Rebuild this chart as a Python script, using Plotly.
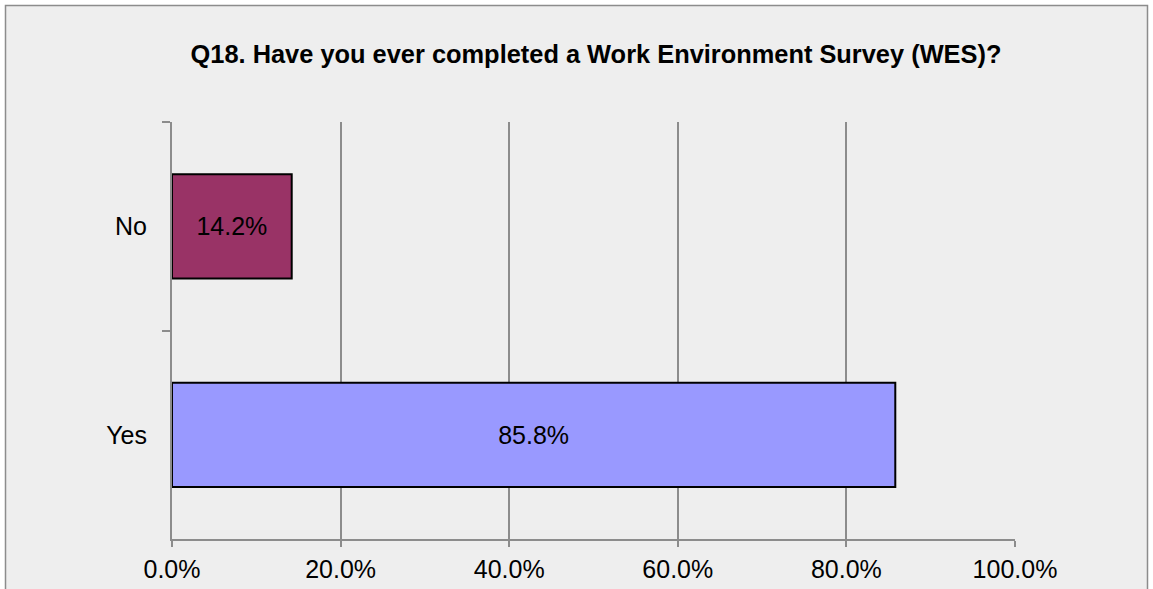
import plotly.graph_objects as go

categories = ["No", "Yes"]
values = [0.142, 0.858]
bar_colors = ["#993366", "#9999FF"]
x_ticks = [0, 0.2, 0.4, 0.6, 0.8, 1.0]
x_tick_labels = ["0.0%", "20.0%", "40.0%", "60.0%", "80.0%", "100.0%"]
title_text = "Q18. Have you ever completed a Work Environment Survey (WES)?"

FONT = "Liberation Sans, Arial, sans-serif"

fig = go.Figure(go.Bar(
    x=values,
    y=categories,
    orientation="h",
    width=0.5,
    marker=dict(color=bar_colors, line=dict(color="#000000", width=2)),
    text=[f"{v*100:.1f}%" for v in values],
    textposition="inside",
    insidetextanchor="middle",
    textfont=dict(family=FONT, size=25, color="#000000"),
    hoverinfo="skip",
))

L, R, T, B = 172, 138, 122, 50
W, H = 1153, 589
pw, ph = W - L - R, H - T - B

def px_to_paper_x(px):
    return (px - L) / pw

def px_to_paper_y(py):
    return (H - B - py) / ph

fig.update_layout(
    width=W, height=H,
    margin=dict(l=L, r=R, t=T, b=B, pad=0),
    paper_bgcolor="#FFFFFF",
    plot_bgcolor="#EEEEEE",
    showlegend=False,
    title=dict(
        text=title_text,
        x=596 / W, xanchor="center",
        y=1 - 54 / H, yanchor="middle",
        font=dict(family=FONT, size=25.4, color="#000000", weight="bold"),
    ),
    font=dict(family=FONT, size=25, color="#000000"),
    xaxis=dict(
        range=[0, 1],
        tickvals=x_ticks,
        ticktext=x_tick_labels,
        showgrid=True, gridcolor="#8C8C8C", gridwidth=2,
        showline=True, linecolor="#8C8C8C", linewidth=2,
        ticks="outside", ticklen=6, tickwidth=2, tickcolor="#8C8C8C",
        ticklabelstandoff=1,
        zeroline=False,
        automargin=False,
        tickfont=dict(family=FONT, size=25, color="#000000"),
        fixedrange=True,
    ),
    yaxis=dict(
        categoryorder="array", categoryarray=categories,
        autorange="reversed",
        showgrid=False,
        showline=True, linecolor="#8C8C8C", linewidth=2,
        ticks="outside", ticklen=8, tickwidth=2, tickcolor="#8C8C8C",
        tickson="boundaries",
        ticklabelstandoff=18,
        automargin=False,
        tickfont=dict(family=FONT, size=25, color="#000000"),
        fixedrange=True,
    ),
    shapes=[dict(
        type="rect", xref="paper", yref="paper",
        x0=px_to_paper_x(5.5), x1=px_to_paper_x(1147.5),
        y0=px_to_paper_y(620), y1=px_to_paper_y(5.5),
        line=dict(color="#8C8C8C", width=1.5),
        fillcolor="#EEEEEE", layer="below",
    )],
)

fig.write_html(
    "out.html",
    config={"displayModeBar": False},
    post_script="document.body.style.margin='0';document.body.style.overflow='hidden';",
)
